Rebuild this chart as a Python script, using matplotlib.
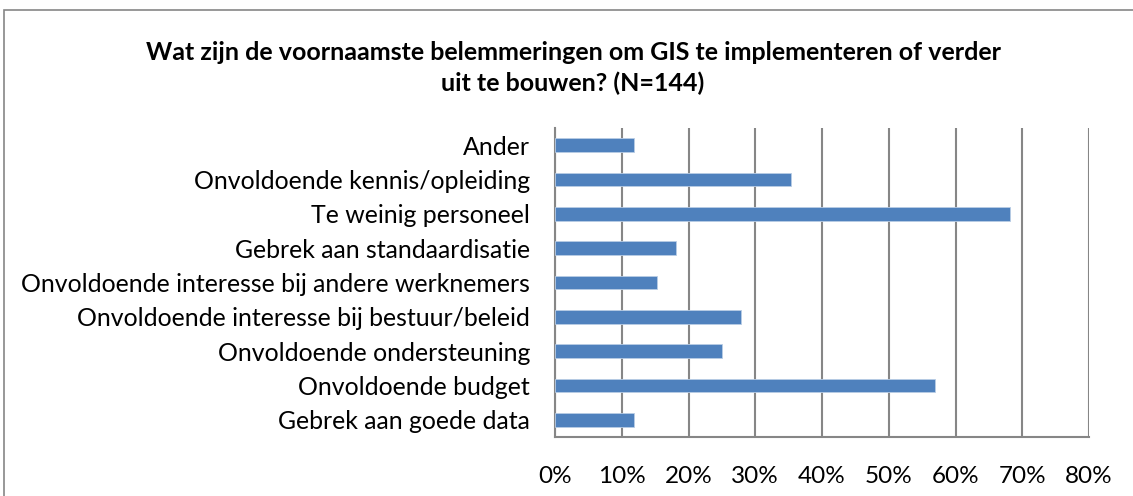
import matplotlib
matplotlib.use("Agg")
import matplotlib.pyplot as plt
from matplotlib.patches import Rectangle
from matplotlib.ticker import FuncFormatter, MultipleLocator

categories = [
    "Gebrek aan goede data",
    "Onvoldoende budget",
    "Onvoldoende ondersteuning",
    "Onvoldoende interesse bij bestuur/beleid",
    "Onvoldoende interesse bij andere werknemers",
    "Gebrek aan standaardisatie",
    "Te weinig personeel",
    "Onvoldoende kennis/opleiding",
    "Ander",
]
values = [11.8, 56.9, 25.0, 27.8, 15.3, 18.1, 68.1, 35.4, 11.8]
title = "Wat zijn de voornaamste belemmeringen om GIS te implementeren of verder\nuit te bouwen? (N=144)"

plt.rcParams['font.family'] = ['Lato', 'DejaVu Sans']

W, H = 1133, 496
fig = plt.figure(figsize=(W / 100, H / 100), dpi=100)
fig.patch.set_facecolor("white")

# outer chart border
fig.add_artist(Rectangle((4 / W, -0.1), 1.2, 1 - 10 / H + 0.1, transform=fig.transFigure,
                         fill=False, edgecolor="#868686", linewidth=1.2))

ax = fig.add_axes([555 / W, 1 - 437 / H, (1089 - 555) / W, (437 - 128) / H])
y = list(range(len(categories)))
ax.barh(y, values, height=0.39, color="#4F81BD", edgecolor="#B9CDE5", linewidth=0.6, zorder=3)
ax.set_xlim(0, 80)
ax.set_ylim(-0.5, len(categories) - 0.5)
ax.xaxis.set_major_locator(MultipleLocator(10))
ax.xaxis.set_major_formatter(FuncFormatter(lambda v, p: f"{v:.0f}%"))
ax.set_yticks(y)
ax.set_yticklabels(categories)
ax.grid(axis="x", color="#868686", linewidth=1.5, zorder=0)
for s in ["top", "right"]:
    ax.spines[s].set_visible(False)
for s in ["left", "bottom"]:
    ax.spines[s].set_color("#868686")
    ax.spines[s].set_linewidth(1.5)
ax.tick_params(axis="x", length=0, labelsize=17.5, colors="black", pad=21)
ax.tick_params(axis="y", length=0, labelsize=17.9, colors="black", pad=18)

fig.text(573 / W, 1 - 68 / H, title, ha="center", va="center", fontsize=18,
         fontweight="bold", linespacing=1.4)

fig.savefig("out.png", dpi=100)
